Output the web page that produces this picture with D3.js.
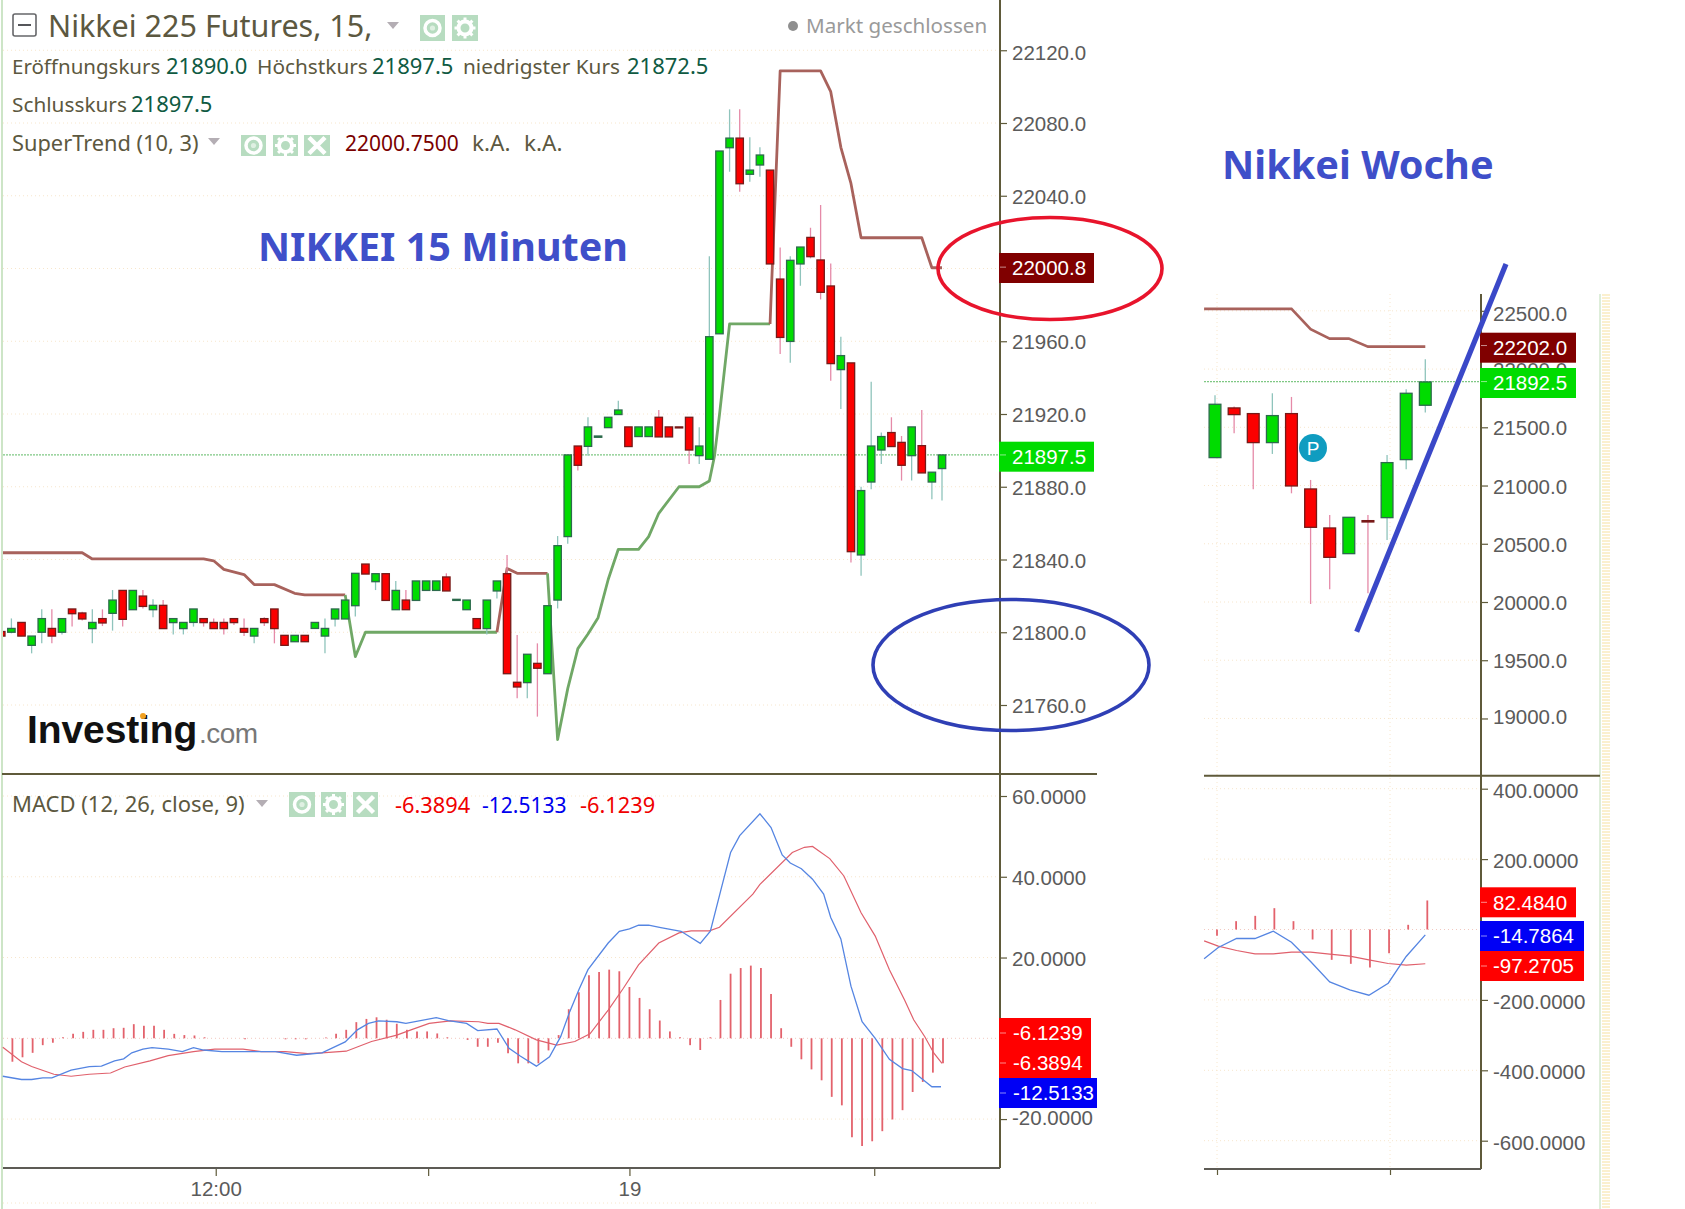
<!DOCTYPE html>
<html><head><meta charset="utf-8">
<script src="https://cdnjs.cloudflare.com/ajax/libs/d3/7.8.5/d3.min.js"></script>
<style>html,body{margin:0;padding:0;background:#fff;overflow:hidden}svg{display:block}</style>
</head><body><svg id="c" width="1685" height="1209"></svg>
<script>
// ---------- 15-minute chart data (candle index runs from -1 to 92) ----------
const opens=[21800.4,21800,21805.4,21792.8,21800,21802.1,21800,21812.8,21810.6,21802,21807.5,21810.4,21823,21812.4,21819.9,21812.4,21814.8,21805.3,21802,21805.4,21807.5,21805.4,21805.4,21807.5,21802.1,21797.9,21807.5,21812.8,21798.3,21794.8,21798.3,21802.1,21797.9,21807.3,21807.3,21814.6,21837.5,21827.8,21832.2,21812.4,21817.7,21817.5,21823,21823,21830.4,21817.5,21812.4,21807.5,21802,21822.7,21832.2,21772.5,21772.3,21782.9,21777.2,21817.7,21852.6,21902.4,21902.2,21907.2,21912.5,21919.7,21912.9,21907.6,21907.6,21918.2,21912.9,21912.9,21918.2,21897.1,21895.1,21964.1,22066.4,22071.7,22051.8,22056.9,22054.1,21994.2,21959.9,22002.5,22017.1,22004.7,21990.4,21944.4,21948.1,21842.5,21882.6,21900.2,21909.8,21904.4,21897.1,21902.6,21882.6,21890];
const highs=[21800.4,21807.6,21805.4,21797.9,21812.6,21812.6,21807.5,21812.8,21811.3,21812.6,21812.6,21823.2,21823,21823,21823.2,21818.1,21817.7,21807.5,21805.4,21812.8,21807.5,21807.5,21807.5,21807.5,21807.5,21802.1,21808.2,21812.8,21798.3,21798.3,21798.3,21805.4,21807.5,21812.8,21817.7,21832.4,21837.5,21832.2,21832.2,21828.2,21823.2,21828.2,21828.2,21828.2,21832.4,21818.1,21817.7,21807.5,21817.7,21828.2,21842.5,21798.5,21787.9,21793.9,21814.6,21852.9,21897.5,21902.4,21918.2,21907.9,21918.2,21927.3,21912.9,21912.9,21912.9,21922.2,21912.9,21912.9,21918.2,21912.7,22006.8,22064.6,22087.5,22087.5,22072.1,22066.6,22054.1,22011.6,22006.8,22011.8,22022.4,22034.9,22002.8,21962.5,21948.1,21880,21937.8,21909.8,21918.2,21907.9,21912.9,21922.2,21888,21897.5];
const lows=[21797.9,21799.4,21797.9,21788.4,21793.9,21793.9,21798.8,21803.1,21806.4,21793.9,21803.4,21800.9,21803.1,21812.4,21813.1,21808.2,21802,21798.8,21798.8,21803.1,21803.1,21802,21798.8,21804,21797.9,21793.9,21803.4,21793.9,21792.8,21794.8,21794.8,21802.1,21788.4,21803.1,21807.3,21808.6,21832,21823.2,21817.5,21812.4,21812.4,21817.5,21823,21823,21822.7,21817.5,21812.4,21802,21798.8,21818.6,21777.2,21763.7,21763.7,21753.6,21777.2,21813.1,21848.6,21888.9,21897.1,21907.2,21912.5,21919.7,21902.1,21907.6,21907.6,21907.4,21907.4,21912.5,21892.5,21892.5,21895.1,21964.1,22053.2,22042.2,22047.7,22050.5,22002.5,21953,21948.2,21990.5,22005.6,21983,21938.3,21922.8,21838.3,21831,21878.6,21892.5,21902.1,21883.4,21883.4,21887.6,21873.1,21872.5];
const closes=[21797.9,21802.1,21797.9,21797.9,21807.5,21797.9,21807.5,21810.2,21807.3,21805.4,21805.1,21817.7,21807.1,21823,21814.2,21814.8,21802,21807.5,21805.4,21812.8,21805.3,21802,21802,21805.3,21800,21802.1,21805.3,21802,21792.8,21798.3,21794.8,21805.4,21802.1,21812.8,21817.7,21832.4,21832,21832.2,21817.5,21823,21812.4,21828.2,21828.2,21828.2,21822.7,21818.1,21817.7,21802,21817.7,21828.2,21777.2,21769.9,21787.9,21780.2,21814.6,21847.6,21897.5,21891.8,21912.9,21907.9,21918.2,21922.2,21902.1,21912.9,21912.9,21907.4,21907.4,21912.5,21900.2,21902.4,21962.5,22064.6,22071.7,22046.6,22054.1,22062.4,22002.5,21962.1,22004.5,22011.8,22006.5,21986.9,21947.7,21952.1,21844.3,21877.9,21902.4,21907.6,21902.1,21891.8,21912.9,21887.6,21888,21897.5];
const firstCandleIndex=-1;

// SuperTrend segments as [candle index, price]
const trendDownA=[[-1,21843.7],[7,21843.7],[8,21840.3],[19,21840.3],[20,21839.3],[21,21834.6],[23,21831.7],[24,21826.2],[26,21826.2],[28,21821.4],[29,21820.5],[33,21820.5]];
const trendUpA=[[33,21820.5],[34,21786.6],[35,21800],[48,21800]];
const trendDownB=[[48,21800],[49,21835.1],[50,21832.4],[53,21832.4]];
const trendUpB=[[53,21832.4],[54,21741],[55,21769],[56,21791],[57,21799],[58,21808],[59,21829],[60,21845.6],[62,21845.6],[63,21852.6],[64,21865.4],[66,21880],[68,21880],[69,21883.2],[69.5,21896.6],[70,21919.5],[71,21969.5],[75,21969.5]];
const trendDownC=[[75,21969.5],[76,22108.7],[80,22108.7],[81,22097.2],[82,22066.6],[83,22046.8],[84,22016.9],[90,22016.9],[91,22000.4],[92,22000.4]];

// MACD histogram, index 0..92
const macdHist=[-5.8,-4.7,-3.6,-1.7,-1.1,0.25,1.1,1.6,2.1,2.1,2.5,2.6,3.5,3.1,3.1,2.1,1.1,0.8,0.7,0.25,0,0,0,-0.25,0,0,0,-0.25,-0.25,-0.25,0,0.2,1.1,2.1,4.0,4.8,5.2,4.6,3.6,2.1,1.7,1.7,1.2,0.25,0,-0.4,-2.1,-2.1,-1.1,-3.7,-6.2,-6.2,-6.2,-3,0.8,7.2,11.4,15.6,16.4,17,16.6,12.7,10,7.2,4.4,1.7,0.25,-1.7,-2.9,0.25,9.5,16,17.4,18,17.4,11,2.5,-2.1,-5.2,-7.7,-10.4,-14.5,-16.6,-24.5,-26.7,-25.5,-23,-20.1,-17.8,-13.3,-10.8,-8.5,-6.2];
const macdLine=[[-0.85,-9.4],[1,-10.2],[2,-10.2],[3.1,-9.8],[4,-9.8],[5.9,-7.9],[7.7,-7],[8.9,-6.9],[10.2,-5.6],[11.1,-5.1],[11.9,-3.6],[13,-2.7],[13.9,-2.3],[15.5,-2.7],[16.9,-3.3],[18,-2.3],[19,-2.9],[20.8,-3.3],[23.6,-3.3],[26.1,-3.3],[28.2,-4.2],[30.7,-3.6],[33,-0.9],[34.2,2.1],[35.3,3.7],[36.3,4.3],[38.1,4.1],[39,3.7],[42,5.1],[43.2,4.4],[45,3.7],[46.1,1.9],[48,2.3],[49.2,-2.5],[50.3,-4.4],[51.9,-6.9],[53.2,-4.6],[54.3,0.4],[55.2,6.6],[56.1,12],[57,17],[59,23.6],[60.1,26.5],[61.1,27.1],[62,28],[63,28],[64.2,27.4],[66.2,26.5],[68.1,23.5],[69.1,26.5],[70.2,37.3],[71.1,46],[72,50.2],[74,55.6],[75.1,52.2],[76.2,45.4],[77,43.4],[78.1,42],[79.2,39.4],[80.3,35.7],[81,29.9],[82,24.6],[83,12.9],[84.1,4.1],[85.4,0],[86.8,-5.2],[88.1,-7.5],[89,-8],[91,-12],[91.9,-12]];
const signalLine=[[-0.85,-2.2],[1,-5.8],[2,-7],[4.2,-8.9],[5.9,-9.4],[7.7,-8.9],[9.8,-8.6],[11.2,-7.1],[13.7,-5.6],[15.5,-4.3],[18,-3.3],[20.1,-2.7],[22.9,-2.7],[24.7,-3.3],[27.1,-3.3],[29.3,-3.8],[30.7,-3.6],[33.1,-3.2],[35.6,-0.8],[38.1,0.8],[39.5,2.1],[41.3,3.7],[43.4,4.3],[46.2,4.1],[47.1,3.7],[48.2,3.7],[49.8,2.1],[51.9,-0.4],[53.9,-1.7],[55.7,-0.8],[57.2,1.1],[59,7],[60.5,12.4],[62,18.2],[64,23.6],[66,26.1],[67.2,26.6],[69,26.6],[70,27.5],[73.3,35.7],[74,38.1],[77.2,46],[78.4,47.3],[79.2,47.5],[80.9,44.5],[82.3,40.2],[84,31.1],[85.4,25.3],[86.8,17],[88.3,9.5],[89.2,4.6],[90.3,0.4],[91.2,-3.7],[92,-6.2]];

const priceTicks=[22120,22080,22040,22000,21960,21920,21880,21840,21800,21760];
const macdTicks=[60,40,20,0,-20];
const timeTicks=[[20.2,"12:00"],[41.2,""],[61.1,"19"],[85.3,""]];

// ---------- weekly chart data ----------
const wOpens=[21239.7,21666.3,21617.6,21368.5,21617.6,20970.6,20635.6,20415.1,20698.6,20724.3,21222.5,21689.2];
const wHighs=[21775,21677.7,21617.6,21792.2,21760.7,21047.9,20747.2,20727.2,20747.2,21262.6,21826.6,22084.3];
const wLows=[21239.7,21448.7,20967.7,21271.2,20933.3,19982.8,20108.8,20415.1,20074.4,20532.5,21139.5,21626.2];
const wCloses=[21697.8,21609,21368.5,21600.4,20996.3,20641.3,20383.6,20727.2,20687.1,21196.7,21792.2,21889.6];
const wTrend=[[-0.57,22516.6],[4,22516.6],[5,22342],[6,22261.8],[7,22261.8],[8,22193],[11,22193]];
const wHist=[-18,23.7,38.8,60.6,23.7,-28.4,-86.2,-97.5,-108,-67.2,13.3,82.5];
const wMacd=[[-0.57,-83.3],[0.17,-51.1],[1.13,-25.6],[2.09,-25.6],[3.05,-4.7],[4,-36],[5,-90.9],[6,-148.7],[7.05,-171.4],[8.05,-186.6],[9.06,-152.5],[10,-76.7],[11,-15.2]];
const wSignal=[[-0.57,-32.2],[0.17,-47.3],[1.13,-59.7],[2.09,-69.1],[3.05,-69.1],[4,-64.4],[5,-64.4],[6,-70],[7.05,-75.8],[8.05,-86.2],[9.06,-96.6],[10,-101.3],[11,-97.3]];
const wPriceTicks=[22500,22000,21500,21000,20500,20000,19500,19000];
const wMacdTicks=[400,200,0,-200,-400,-600];
const trendAnnotation=[[19745,1356.7],[22902,1506]];

// ---------- styling ----------
const GREEN="#00dc00",RED="#fb0000",GBORDER="#2c6a4c",RBORDER="#761a18",
      AXIS="#5f5a3a",TXT="#5c5840",NUM="#0f5a42",GRID="#f7e6cc",
      TREND_R="#a8625c",TREND_G="#70a866",HIST="#e3626c",BLUE="#5585e2",SIG="#e0606c",
      AX_FONT='"Liberation Sans",Arial,sans-serif',UI_FONT='"Noto Sans",sans-serif';

const svg=d3.select("#c");
const defs=svg.append("defs");
defs.append("clipPath").attr("id","cl").append("rect").attr("x",3).attr("y",0).attr("width",997).attr("height",1168);

const x=d3.scaleLinear().domain([0,92]).range([11.4,942]);
const y=d3.scaleLinear().domain([22080,21760]).range([123,705]);
const m=d3.scaleLinear().domain([0,60]).range([1038.3,796]);
const wx=d3.scaleLinear().domain([0,11]).range([1215,1425.3]);
const wy=d3.scaleLinear().domain([20000,21500]).range([602,427.3]);
const wm=d3.scaleLinear().domain([0,400]).range([929.5,788.7]);

function hline(g,x1,x2,yy,col,w,dash){g.append("line").attr("x1",x1).attr("x2",x2).attr("y1",yy).attr("y2",yy).attr("stroke",col).attr("stroke-width",w||1).attr("stroke-dasharray",dash||null);}
function vline(g,xx,y1,y2,col,w,dash){g.append("line").attr("x1",xx).attr("x2",xx).attr("y1",y1).attr("y2",y2).attr("stroke",col).attr("stroke-width",w||1).attr("stroke-dasharray",dash||null);}

// page edges
vline(svg,2,0,1209,"#bcdcb4",1.5);
vline(svg,1600,294,1209,"#bcdcb4",1);
vline(svg,1606,294,1209,"#fbf0cf",8,"2,1");

// grids
const gridG=svg.append("g");
priceTicks.forEach(t=>hline(gridG,3,1000,y(t),GRID,1,"1,3"));
macdTicks.forEach(t=>hline(gridG,3,1000,m(t),t===0?"#f2c8c0":GRID,1,"1,3"));
hline(gridG,3,1097,1203,GRID,1,"1,3");
wPriceTicks.forEach(t=>hline(gridG,1204,1481,wy(t),GRID,1,"1,3"));
wMacdTicks.forEach(t=>hline(gridG,1204,1481,wm(t),t===0?"#f2c8c0":GRID,1,"1,3"));
[1217,1390].forEach(v=>vline(gridG,v,294,1169,GRID,1,"1,3"));

// axis helpers
const noMinus=(f,hidden)=>d=>(hidden||[]).includes(d)?"":f(d).replace("\u2212","-");
function styleAxis(g,dy,nudge){
  g.select(".domain").remove();
  g.selectAll("line").attr("stroke",AXIS).attr("stroke-width",1.2);
  g.selectAll("text").attr("fill","#5b5b5b").attr("font-family",AX_FONT).attr("font-size",20.5)
    .attr("transform",d=>`translate(0,${(dy||0)+((nudge&&nudge[d])||0)})`);
}
const a1=svg.append("g").attr("transform","translate(1000,0)").call(d3.axisRight(y).tickValues(priceTicks).tickFormat(noMinus(d3.format(".1f"),[22000])).tickSize(7).tickPadding(5));styleAxis(a1,1,{22120:2});
const a2=svg.append("g").attr("transform","translate(1000,0)").call(d3.axisRight(m).tickValues(macdTicks).tickFormat(noMinus(d3.format(".4f"),[0])).tickSize(7).tickPadding(5));styleAxis(a2,1,{"-20":-2});
const a3=svg.append("g").attr("transform","translate(1481,0)").call(d3.axisRight(wy).tickValues(wPriceTicks).tickFormat(noMinus(d3.format(".1f"))).tickSize(7).tickPadding(5));styleAxis(a3,1,{22500:2,19000:-3});
const a4=svg.append("g").attr("transform","translate(1481,0)").call(d3.axisRight(wm).tickValues(wMacdTicks).tickFormat(noMinus(d3.format(".4f"),[0])).tickSize(7).tickPadding(5));styleAxis(a4,2);
const a5=svg.append("g").attr("transform","translate(0,1168)").call(d3.axisBottom(x).tickValues(timeTicks.map(d=>d[0])).tickFormat((d,i)=>timeTicks[i][1]).tickSize(8).tickPadding(5));styleAxis(a5);
const a6=svg.append("g").attr("transform","translate(0,1169)").call(d3.axisBottom(d3.scaleLinear().domain([0,1]).range([1217,1390])).tickValues([0,1]).tickFormat("").tickSize(6));styleAxis(a6);

// frame lines
vline(svg,1000,0,1168,AXIS,2);
hline(svg,2,1097,774,AXIS,2);
hline(svg,3,1000,1168,"#5d5b55",2);
vline(svg,1481,294,1169,AXIS,2);
hline(svg,1204,1600,775.7,AXIS,2);
hline(svg,1204,1481,1169,"#5d5b55",2);

// current price dotted lines
hline(svg,3,1000,y(21897.5),"#7fc884",1.3,"2,1");
hline(svg,1204,1481,wy(21892.5),"#7fc884",1.3,"2,1");

// supertrend
const plot=svg.append("g").attr("clip-path","url(#cl)");
const lineT=d3.line().x(d=>x(d[0])).y(d=>y(d[1]));
[[trendDownA,TREND_R],[trendUpA,TREND_G],[trendDownB,TREND_R],[trendUpB,TREND_G],[trendDownC,TREND_R]].forEach(([s,c])=>{
  plot.append("path").datum(s).attr("d",lineT).attr("fill","none").attr("stroke",c).attr("stroke-width",2.8).attr("stroke-linejoin","round");
});

// candles
function candles(g,X,Y,O,H,L,C,first,bw){
  const rows=O.map((o,i)=>({i:i+first,o,h:H[i],l:L[i],c:C[i],up:C[i]>=o}));
  g.selectAll(null).data(rows).join("line").attr("x1",d=>X(d.i)).attr("x2",d=>X(d.i)).attr("y1",d=>Y(d.h)).attr("y2",d=>Y(d.l))
    .attr("stroke",d=>d.up?"#8fc4bc":"#e58aa8").attr("stroke-width",1.3);
  g.selectAll(null).data(rows).join("rect").attr("x",d=>X(d.i)-bw/2).attr("width",bw)
    .attr("y",d=>Y(Math.max(d.o,d.c))).attr("height",d=>Math.max(1,Math.abs(Y(d.o)-Y(d.c))))
    .attr("fill",d=>d.up?GREEN:RED).attr("stroke",d=>d.up?GBORDER:RBORDER).attr("stroke-width",1.3);
}
candles(plot,x,y,opens,highs,lows,closes,firstCandleIndex,7.4);

// MACD left
const histG=svg.append("g");
histG.selectAll("line").data(macdHist).join("line").attr("x1",(d,i)=>x(i)+1).attr("x2",(d,i)=>x(i)+1).attr("y1",m(0)).attr("y2",d=>m(d))
  .attr("stroke",HIST).attr("stroke-width",1.8);
const lm=d3.line().x(d=>x(d[0])).y(d=>m(d[1]));
svg.append("path").datum(signalLine).attr("d",lm).attr("fill","none").attr("stroke",SIG).attr("stroke-width",1.2);
svg.append("path").datum(macdLine).attr("d",lm).attr("fill","none").attr("stroke",BLUE).attr("stroke-width",1.3);

// Weekly
const wG=svg.append("g");
svg.append("path").datum(wTrend).attr("d",d3.line().x(d=>wx(d[0])).y(d=>wy(d[1]))).attr("fill","none").attr("stroke",TREND_R).attr("stroke-width",2.6);
candles(wG,wx,wy,wOpens,wHighs,wLows,wCloses,0,11.8);
const wHistG=svg.append("g");
wHistG.selectAll("line").data(wHist).join("line").attr("x1",(d,i)=>wx(i)+2).attr("x2",(d,i)=>wx(i)+2).attr("y1",wm(0)).attr("y2",d=>wm(d))
  .attr("stroke",HIST).attr("stroke-width",1.8);
const lw=d3.line().x(d=>wx(d[0])).y(d=>wm(d[1]));
svg.append("path").datum(wSignal).attr("d",lw).attr("fill","none").attr("stroke",SIG).attr("stroke-width",1.2);
svg.append("path").datum(wMacd).attr("d",lw).attr("fill","none").attr("stroke",BLUE).attr("stroke-width",1.3);

// value tags
function tag(xa,xb,yc,fill,txt,tx,tickY){
  svg.append("rect").attr("x",xa).attr("y",yc-15).attr("width",xb-xa).attr("height",30).attr("fill",fill);
  hline(svg,xa+1,xa+7,tickY===undefined?yc:tickY,"rgba(255,255,255,.55)",1);
  svg.append("text").attr("x",tx).attr("y",yc+7.3).attr("fill","#fff").attr("font-family",AX_FONT).attr("font-size",20.5).text(txt);
}
tag(999,1094,268,"#800000","22000.8",1012,y(22000.75));
tag(999,1094,456.7,GREEN,"21897.5",1012,y(21897.5));
tag(999,1091,1033,"#ff0000","-6.1239",1013);
tag(999,1091,1063,"#ff0000","-6.3894",1013);
tag(999,1097,1093,"#0000f5","-12.5133",1013);
tag(1480,1576,347.7,"#800000","22202.0",1493,wy(22202));
tag(1480,1576,383,GREEN,"21892.5",1493,wy(21892.5));
tag(1480,1576,902.3,"#ff0000","82.4840",1493);
tag(1480,1584,936,"#0000f5","-14.7864",1493);
tag(1480,1584,966,"#ff0000","-97.2705",1493);

// text helpers
function T(xx,yy,s,col,size,opts){
  opts=opts||{};
  return svg.append("text").attr("x",xx).attr("y",yy).attr("fill",col).attr("font-family",opts.font||UI_FONT).attr("font-size",size)
    .attr("font-weight",opts.weight||400).attr("letter-spacing",opts.ls||null).attr("text-anchor",opts.anchor||null).text(s);
}
function tri(cx,cy){svg.append("path").attr("d",`M${cx-6},${cy-3}h12l-6,7z`).attr("fill","#b4aeb4");}
function icon(x0,y0,w,h,kind){
  const g=svg.append("g");
  g.append("rect").attr("x",x0).attr("y",y0).attr("width",w).attr("height",h).attr("fill","#b7dcc0");
  const cx=x0+w/2,cy=y0+h/2;
  if(kind==="eye"){
    g.append("circle").attr("cx",cx).attr("cy",cy).attr("r",7.5).attr("fill","none").attr("stroke","#fff").attr("stroke-width",3.5);
    g.append("circle").attr("cx",cx).attr("cy",cy).attr("r",2.6).attr("fill","#dff0e2");
  }
  if(kind==="gear"){
    g.append("circle").attr("cx",cx).attr("cy",cy).attr("r",6.5).attr("fill","none").attr("stroke","#fff").attr("stroke-width",4);
    d3.range(8).forEach(k=>{const a=k*Math.PI/4;g.append("line").attr("x1",cx+7*Math.cos(a)).attr("y1",cy+7*Math.sin(a)).attr("x2",cx+10.5*Math.cos(a)).attr("y2",cy+10.5*Math.sin(a)).attr("stroke","#fff").attr("stroke-width",3);});
  }
  if(kind==="x"){
    g.append("path").attr("d",`M${cx-8},${cy-8}L${cx+8},${cy+8}M${cx+8},${cy-8}L${cx-8},${cy+8}`).attr("stroke","#fff").attr("stroke-width",4.5);
  }
}

// top legend
svg.append("rect").attr("x",13).attr("y",14).attr("width",23).attr("height",22).attr("rx",2).attr("fill","none").attr("stroke","#66676a").attr("stroke-width",1.6);
hline(svg,18,31,25,"#55565a",2);
T(48,37,"Nikkei 225 Futures, 15,",TXT,30.5);
tri(393,25);
icon(420,15,25,26,"eye");icon(452,15,26,26,"gear");
svg.append("circle").attr("cx",793).attr("cy",26).attr("r",5).attr("fill","#8f8f8f");
T(806,33,"Markt geschlossen","#9a9a9a",20.6);

T(12,74,"Eröffnungskurs",TXT,20.5);T(166,74,"21890.0",NUM,22);
T(257,74,"Höchstkurs",TXT,20.8);T(372,74,"21897.5",NUM,22);
T(463,74,"niedrigster Kurs",TXT,20.8);T(627,74,"21872.5",NUM,22);
T(12,112,"Schlusskurs",TXT,20.8);T(131,112,"21897.5",NUM,22);
T(12,151,"SuperTrend (10, 3)",TXT,21.8);tri(214,141);
icon(241,135,25,21,"eye");icon(273,135,25,21,"gear");icon(304,135,26,21,"x");
T(345,151,"22000.7500","#7a0000",21);T(472,151,"k.A.",TXT,22.5);T(524,151,"k.A.",TXT,22.5);

T(12,812,"MACD (12, 26, close, 9)",TXT,22);tri(262,803);
icon(289,792,26,25,"eye");icon(321,792,25,25,"gear");icon(353,792,25,25,"x");
T(395,813,"-6.3894","#f00000",21.8);T(482,813,"-12.5133","#0000ee",21);T(580,813,"-6.1239","#f00000",21.8);

// logo
T(27,743,"Investing","#111",39,{weight:700,font:'"Liberation Sans",Arial,sans-serif',ls:"-0.1"});
T(199,743,".com","#777",28,{font:'"Liberation Sans",Arial,sans-serif',ls:"-0.5"});
svg.append("circle").attr("cx",143).attr("cy",716).attr("r",3).attr("fill","#f0a020");

// annotations
T(258,261,"NIKKEI 15 Minuten","#3f4fc9",39.5,{weight:700});
T(1222,179,"Nikkei Woche","#3f4fc9",39.7,{weight:700});
svg.append("ellipse").attr("cx",1050).attr("cy",268.5).attr("rx",112).attr("ry",51).attr("fill","none").attr("stroke","#e8142c").attr("stroke-width",3.6);
svg.append("ellipse").attr("cx",1011).attr("cy",665).attr("rx",138).attr("ry",65.5).attr("fill","none").attr("stroke","#2f3fb5").attr("stroke-width",3.6);
// weekly trend annotation: [price on the weekly scale, x position]
svg.append("path").datum(trendAnnotation).attr("d",d3.line().x(d=>d[1]).y(d=>wy(d[0]))).attr("stroke","#3a48c8").attr("stroke-width",5.2).attr("fill","none");
// pivot marker
svg.append("circle").attr("cx",1313).attr("cy",448).attr("r",14).attr("fill","#0f9cc0");
svg.append("text").attr("x",1313).attr("y",455).attr("text-anchor","middle").attr("fill","#fff").attr("font-family",AX_FONT).attr("font-size",19).text("P");
</script></body></html>
